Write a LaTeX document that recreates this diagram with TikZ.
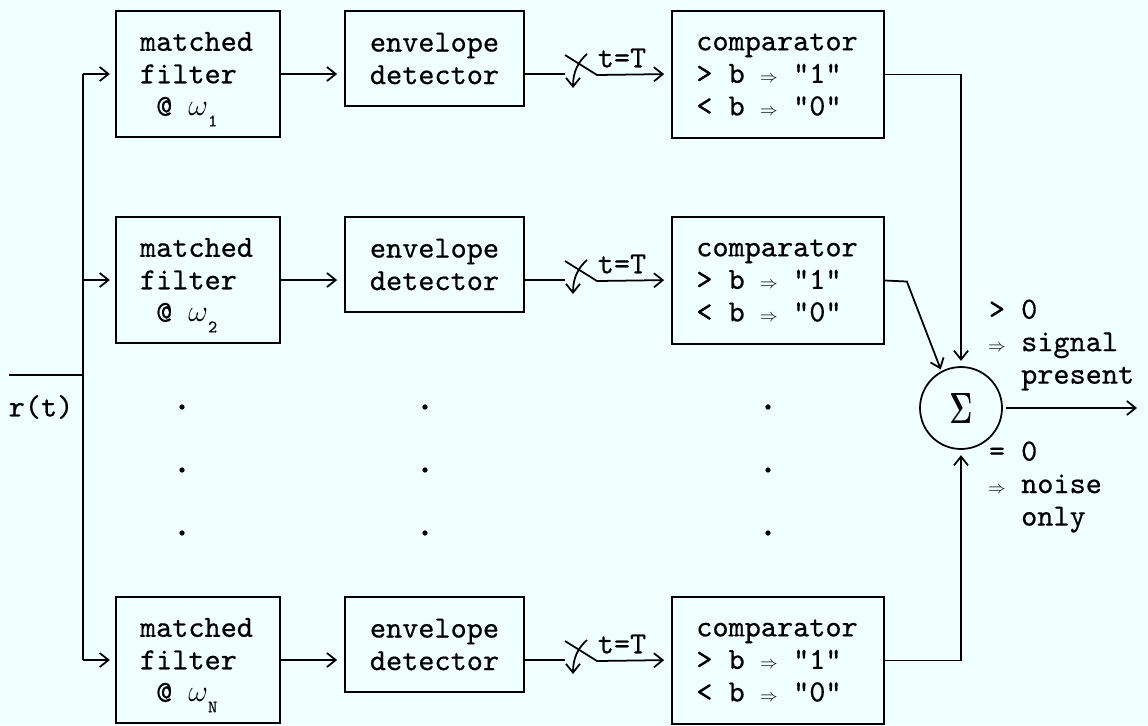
\documentclass[tikz,border=0pt]{standalone}
\usepackage{fontspec}
\setmonofont{lmmono10-regular.otf}[FakeBold=0.5]
\usepackage{graphicx}
\usetikzlibrary{arrows.meta,calc}
\definecolor{paper}{RGB}{240,255,255}
\newcommand\thento{\makebox[0.525em]{\fontsize{10}{10}\selectfont$\Rightarrow$}}
\newcommand\subw[1]{$\omega$\raisebox{-6pt}[0pt][0pt]{\fontsize{10}{10}\selectfont #1}}

\begin{document}
\begin{tikzpicture}[x=0.02cm, y=-0.02cm, line width=1pt,
    font=\ttfamily\fontsize{17.5}{18.5}\selectfont,
    block/.style={draw, inner sep=0pt},
    mfbox/.style={block, minimum width=3.28cm, minimum height=2.52cm, text width=66pt, align=flush left},
    envbox/.style={block, minimum width=3.58cm, minimum height=1.9cm, align=center},
    cmpbox/.style={block, minimum width=4.24cm, minimum height=2.54cm, text width=93pt, align=flush left},
    sumnode/.style={draw, circle, minimum size=1.64cm, inner sep=0pt},
    flow/.style={-{Straight Barb[length=5pt,width=8pt]}, shorten >=4pt}]
    \path[use as bounding box, fill=paper] (0,0) rectangle (1148,725);
    % define variables.
    \coordinate (in) at (9,375);
    \coordinate (top) at (83,74);
    \coordinate (bot) at (83,660);
    \coordinate (sw1) at (565,74);
    \coordinate (sw2) at (565,280);
    \coordinate (swN) at (565,660);
    \coordinate (out) at (1137,408);
    % draw the blocks
    \node[mfbox] (mf1) at (198,74) {matched\\filter\\\phantom{x}@ \subw{1}};
    \node[mfbox] (mf2) at (198,280) {matched\\filter\\\phantom{x}@ \subw{2}};
    \node[mfbox] (mfN) at (198,660) {matched\\filter\\\phantom{x}@ \subw{N}};
    \node[envbox] (env1) at (434.5,58.5) {envelope\\detector};
    \node[envbox] (env2) at (434.5,264.5) {envelope\\detector};
    \node[envbox] (envN) at (434.5,644.5) {envelope\\detector};
    \node[cmpbox] (cmp1) at (778,74.5) {comparator\\> b \thento{} "1"\\< b \thento{} "0"};
    \node[cmpbox] (cmp2) at (778,280.5) {comparator\\> b \thento{} "1"\\< b \thento{} "0"};
    \node[cmpbox] (cmpN) at (778,660.5) {comparator\\> b \thento{} "1"\\< b \thento{} "0"};
    \node[sumnode] (sum) at (961,408) {\scalebox{0.65}[1]{\fontsize{23}{23}\selectfont\boldmath$\Sigma$}};
    % draw the labels
    \node (rt) at (41,407) {r(t)};
    \node (tT1) at ($(sw1)+(57,-16)$) {t=T};
    \node (tT2) at ($(sw2)+(57,-16)$) {t=T};
    \node (tTN) at ($(swN)+(57,-16)$) {t=T};
    \node[anchor=west, align=left, inner sep=0pt] (sig) at (988,345) {> 0\\\thento{} signal\\\phantom{xx}present};
    \node[anchor=west, align=left, inner sep=0pt] (noise) at (988,487) {= 0\\\thento{} noise\\\phantom{xx}only};
    % draw the dots
    \fill (182,407) circle (1.5pt);
    \fill (182,470) circle (1.5pt);
    \fill (182,533) circle (1.5pt);
    \fill (425,407) circle (1.5pt);
    \fill (425,470) circle (1.5pt);
    \fill (425,533) circle (1.5pt);
    \fill (768,407) circle (1.5pt);
    \fill (768,470) circle (1.5pt);
    \fill (768,533) circle (1.5pt);
    % draw the input bus
    \draw (in) -- (in -| top);
    \draw (top) -- (bot);
    \draw[flow, shorten >=3pt] (top) -- (mf1.west);
    \draw[flow, shorten >=3pt] (top |- mf2.west) -- (mf2.west);
    \draw[flow, shorten >=3pt] (bot) -- (mfN.west);
    % draw the edges
    \draw[flow] (mf1.east) -- (mf1.east -| env1.west);
    \draw[flow] (mf2.east) -- (mf2.east -| env2.west);
    \draw[flow] (mfN.east) -- (mfN.east -| envN.west);
    % draw the switches
    \draw (env1.east |- sw1) -- (sw1);
    \draw[flow] ($(sw1)+(0,-19)$) -- ($(sw1)+(32,1)$) -- (sw1 -| cmp1.west);
    \draw[flow, shorten >=0pt] ($(sw1)+(22,-20)$) .. controls ($(sw1)+(13,-12)$) and ($(sw1)+(8,-2)$) .. ($(sw1)+(8,14)$);
    \draw (env2.east |- sw2) -- (sw2);
    \draw[flow] ($(sw2)+(0,-19)$) -- ($(sw2)+(32,1)$) -- (sw2 -| cmp2.west);
    \draw[flow, shorten >=0pt] ($(sw2)+(22,-20)$) .. controls ($(sw2)+(13,-12)$) and ($(sw2)+(8,-2)$) .. ($(sw2)+(8,14)$);
    \draw (envN.east |- swN) -- (swN);
    \draw[flow] ($(swN)+(0,-19)$) -- ($(swN)+(32,1)$) -- (swN -| cmpN.west);
    \draw[flow, shorten >=0pt] ($(swN)+(22,-20)$) .. controls ($(swN)+(13,-12)$) and ($(swN)+(8,-2)$) .. ($(swN)+(8,14)$);
    % draw the summing edges
    \draw[flow, shorten >=3pt] (cmp1.east) -| (sum.north);
    \draw[flow, shorten >=1pt] (cmp2.east) -- ++(22,1) -- (sum.118);
    \draw[flow, shorten >=3pt] (cmpN.east) -| (sum.south);
    \draw[flow, shorten >=0pt, shorten <=2pt] (sum.east) -- (out);
\end{tikzpicture}
\end{document}
